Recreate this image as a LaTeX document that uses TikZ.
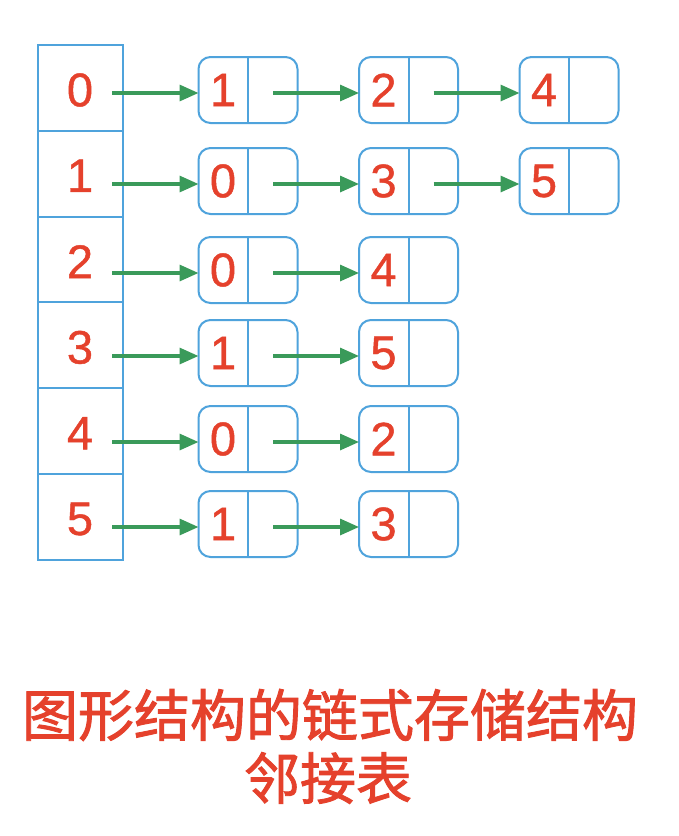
\documentclass[tikz,border=0pt]{standalone}
\usepackage{fontspec}
\setmainfont{Liberation Sans}
\newfontfamily\cjk[FakeBold=1.6]{Noto Sans CJK SC}
\newfontfamily\digitfont[FakeBold=1.0]{Liberation Sans}
\usetikzlibrary{arrows.meta}
\definecolor{lineblue}{HTML}{4FA3DC}
\definecolor{numred}{HTML}{E5412C}
\definecolor{arrgreen}{HTML}{3A9A5A}
\tikzset{
  cellbox/.style={draw=lineblue, line width=2pt, minimum width=85pt, minimum height=85.8pt, inner sep=0pt, outer sep=0pt},
  listnode/.style={draw=lineblue, line width=2pt, rounded corners=12pt, minimum width=99pt, minimum height=66pt, inner sep=0pt, outer sep=0pt},
  divider/.style={draw=lineblue, line width=2pt},
  digit/.style={text=numred, font=\digitfont\fontsize{47}{47}\selectfont, inner sep=0pt},
  link/.style={draw=arrgreen, line width=3.2pt, -{Triangle[length=19pt,width=16pt]}},
  title/.style={text=numred, font=\cjk\fontsize{56}{56}\selectfont, inner sep=0pt},
}
\begin{document}
\begin{tikzpicture}[x=1pt,y=-1pt]
\useasboundingbox[fill=white] (0,0) rectangle (678,836);
% array cells
\foreach \i in {0,...,5}{
  \node[cellbox] (a\i) at (80.5, 87.9+85.8*\i) {};
  \node[digit] (ad\i) at (80, 90+85.8*\i) {\i};
}
% adjacency lists
\foreach \r/\y/\l in {0/90/{1,2,4},1/181/{0,3,5},2/270/{0,4},3/353/{1,5},4/439/{0,2},5/524/{1,3}}{
  \coordinate (p\r-0) at (112,\y+3);
  \foreach \v [count=\c, remember=\c as \pc (initially 0)] in \l {
    \pgfmathsetmacro{\cx}{248+160.5*(\c-1)}
    \node[listnode] (n\r-\c) at (\cx,\y) {};
    \draw[divider] (n\r-\c.north) -- (n\r-\c.south);
    \node[digit] (v\r-\c) at ([xshift=-25pt]n\r-\c.center) {\v};
    \coordinate (p\r-\c) at ([xshift=25pt,yshift=-3pt]n\r-\c.center);
    \draw[link] (p\r-\pc) -- (p\r-\pc -| n\r-\c.west);
  }
}
% title
\node[title] (t1) at (330,715) {图形结构的链式存储结构};
\node[title] (t2) at (328,778) {邻接表};
\end{tikzpicture}
\end{document}
